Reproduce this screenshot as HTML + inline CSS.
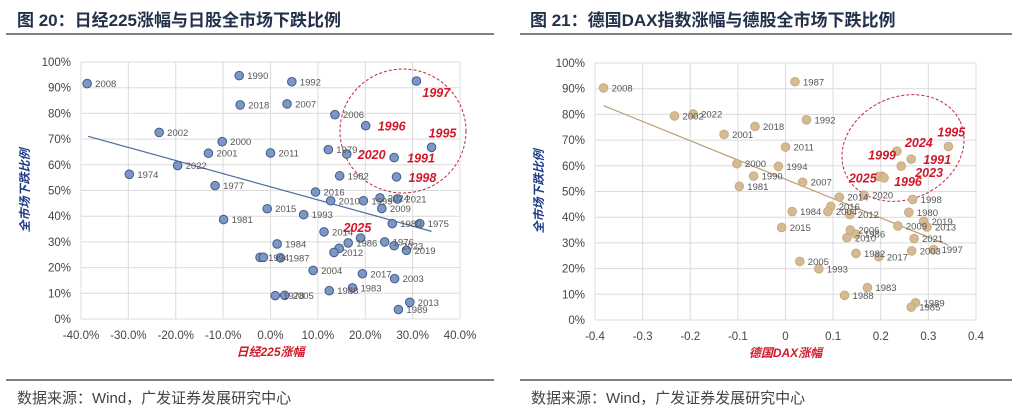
<!DOCTYPE html>
<html><head><meta charset="utf-8"><style>
body{margin:0;background:#fff;width:1024px;height:415px;overflow:hidden;font-family:"Liberation Sans","Noto Sans CJK SC",sans-serif}
</style></head><body>
<svg id="svg" width="1024" height="415" xmlns="http://www.w3.org/2000/svg">
<g font-family="'Liberation Sans','Noto Sans CJK SC',sans-serif">
<text x="17" y="26" font-size="17" font-weight="bold" fill="#23304a">图 20：日经225涨幅与日股全市场下跌比例</text>
<line x1="6" y1="34" x2="494" y2="34" stroke="#555" stroke-width="1.5"/>
<text x="530" y="26" font-size="17" font-weight="bold" fill="#23304a">图 21：德国DAX指数涨幅与德股全市场下跌比例</text>
<line x1="520" y1="34" x2="1012" y2="34" stroke="#555" stroke-width="1.5"/>
<line x1="6" y1="380" x2="494" y2="380" stroke="#555" stroke-width="1.5"/>
<line x1="520" y1="380" x2="1012" y2="380" stroke="#555" stroke-width="1.5"/>
<text x="17" y="403" font-size="15" fill="#444">数据来源：Wind，广发证券发展研究中心</text>
<text x="531" y="403" font-size="15" fill="#444">数据来源：Wind，广发证券发展研究中心</text>
</g>
<g id="left"></g>
<g id="right"></g>
</svg>
<script>
// Left chart data (Nikkei 225 change %, share of stocks declining %)
const leftYears = ["2008","2002","2000","2001","2022","1974","1977","1981","1990","2018","1994","1992","2007","2006","1997","1996","1995","1991","2020","1979","2011","1982","1998","2016","2024","2021","2010","1999","2009","2015","1993","1980","1975","2014","2025","1976","2023","2019","1986","","2012","1984","","1987","2004","2017","2003","1983","2005","1978","1988","2013","1989"];
const leftX = [-38.7,-23.5,-10.2,-13.1,-19.6,-29.8,-11.7,-9.9,-6.6,-6.4,-2.2,4.5,3.5,13.6,30.8,20.1,34.0,26.1,16.1,12.2,0.0,14.6,26.6,9.5,23.1,26.8,12.7,19.6,23.5,-0.7,7.0,25.7,31.5,11.3,19.0,24.1,26.1,28.7,16.4,14.5,13.4,1.4,-1.5,2.1,9.0,19.4,26.2,17.3,3.0,1.0,12.4,29.4,27.0];
const leftY = [91.6,72.6,69.0,64.5,59.7,56.3,51.9,38.7,94.7,83.3,24.0,92.3,83.7,79.5,92.6,75.2,66.8,62.8,64.2,65.9,64.6,55.7,55.3,49.4,47.1,46.7,46.0,46.0,43.0,42.9,40.6,37.1,37.1,33.9,31.5,30.0,28.5,26.7,29.6,27.5,25.9,29.2,24.0,23.8,18.9,17.6,15.7,12.1,9.2,9.1,11.0,6.5,3.7];
const leftHot = ["1997","1996","1995","1991","2020","1998","2025"];
const leftTrendX = [-38.5,34.0];
const leftTrendY = [71.1,34.1];
const leftXTicks = [-40,-30,-20,-10,0,10,20,30,40];
const leftXTickLabels = ["-40.0%","-30.0%","-20.0%","-10.0%","0.0%","10.0%","20.0%","30.0%","40.0%"];
const yTicks = [0,10,20,30,40,50,60,70,80,90,100];
const yTickLabels = ["0%","10%","20%","30%","40%","50%","60%","70%","80%","90%","100%"];
// Right chart data (DAX change, share declining %)
const rightYears = ["2008","2002","2022","2018","2001","2000","1990","1981","1987","1992","2011","1994","2007","2014","2020","2016","2004","1984","2012","2015","2006","1986","2010","2009","1980","1998","2019","2013","2021","2003","1997","1982","2017","2005","1993","1983","1988","1989","1985","1995","2024","1991","2023","1999","2025","1996"];
const rightX = [-0.382,-0.233,-0.194,-0.064,-0.129,-0.102,-0.067,-0.097,0.020,0.044,0.000,-0.015,0.036,0.113,0.165,0.095,0.089,0.014,0.135,-0.008,0.136,0.148,0.129,0.236,0.259,0.267,0.290,0.297,0.270,0.265,0.311,0.148,0.196,0.030,0.070,0.172,0.124,0.273,0.264,0.342,0.234,0.264,0.243,0.203,0.196,0.207];
const rightY = [90.3,79.4,80.2,75.3,72.2,60.8,56.0,52.0,92.7,77.9,67.3,59.8,53.6,47.8,48.6,44.2,42.2,42.2,41.0,36.0,35.0,33.4,32.0,36.6,41.9,46.9,38.4,36.2,31.7,26.9,27.4,25.9,24.6,22.8,19.9,12.6,9.6,6.7,5.0,67.5,65.7,62.6,59.9,55.9,55.8,55.3];
const rightHot = ["1995","2024","1991","2023","1999","2025","1996"];
const rightTrendX = [-0.382,0.342];
const rightTrendY = [83.4,29.1];
const rightXTicks = [-0.4,-0.3,-0.2,-0.1,0,0.1,0.2,0.3,0.4];
const rightXTickLabels = ["-0.4","-0.3","-0.2","-0.1","0","0.1","0.2","0.3","0.4"];
// highlighted-label nudges (label offsets only, not data)
const leftHotOffsets = {"1997":[6,16],"1996":[12,5],"1995":[-3,-10],"1991":[13,5],"2020":[11,5],"1998":[12,5],"2025":[-17,-6]};
const rightHotOffsets = {"1995":[-11,-10],"2024":[8,-4],"1991":[12,5],"2023":[14,11],"1999":[-14,-17],"2025":[-30,6],"1996":[10,8]};

const NS="http://www.w3.org/2000/svg";
function mk(parent,tag,attrs,txt){const e=document.createElementNS(NS,tag);for(const k in attrs)e.setAttribute(k,attrs[k]);if(txt!==undefined)e.textContent=txt;parent.appendChild(e);return e;}
const FONT="'Liberation Sans','Noto Sans CJK SC',sans-serif";

function chart(g,cfg){
  const sx=v=>cfg.x0+(v-cfg.xmin)/(cfg.xmax-cfg.xmin)*(cfg.x1-cfg.x0);
  const sy=v=>cfg.y1-(v/100)*(cfg.y1-cfg.y0);
  yTicks.forEach((t,i)=>{
    const l=mk(g,'line',{x1:cfg.x0,x2:cfg.x1,y1:sy(t),y2:sy(t),stroke:'#dcdcdc','stroke-width':1});
    
    
    const tx=mk(g,'text',{x:cfg.x0-10,y:sy(t)+4,'text-anchor':'end','font-size':11.5,fill:'#444','font-family':FONT},yTickLabels[i]);
    
    
  });
  cfg.xt.forEach((t,i)=>{
    const l=mk(g,'line',{x1:sx(t),x2:sx(t),y1:cfg.y0,y2:cfg.y1,stroke:'#dcdcdc','stroke-width':1});
    
    
    const tx=mk(g,'text',{x:sx(t),y:cfg.y1+20,'text-anchor':'middle','font-size':11.5,fill:'#444','font-family':FONT},cfg.xl[i]);
    
    
  });
  const tl=mk(g,'line',{x1:sx(cfg.tx[0]),y1:sy(cfg.ty[0]),x2:sx(cfg.tx[1]),y2:sy(cfg.ty[1]),stroke:cfg.line,'stroke-width':1.2});
  
  
  const el=mk(g,'ellipse',{cx:cfg.ell[0],cy:cfg.ell[1],rx:cfg.ell[2],ry:cfg.ell[3],transform:`rotate(${cfg.ell[4]} ${cfg.ell[0]} ${cfg.ell[1]})`,fill:'none',stroke:'#c0283a','stroke-width':1,'stroke-dasharray':'3,2'});
  
  
  cfg.xs.forEach((v,i)=>{
    const cx=sx(v),cy=sy(cfg.ys[i]);
    const c=mk(g,'circle',{cx:cx,cy:cy,r:4.3,fill:cfg.fill,stroke:cfg.stroke,'stroke-width':1});
    
    
  });
  cfg.xs.forEach((v,i)=>{
    const cx=sx(v),cy=sy(cfg.ys[i]);
    if(!cfg.names[i])return;
    const hot=cfg.hot.includes(cfg.names[i]);
    const off=hot&&cfg.off[cfg.names[i]]?cfg.off[cfg.names[i]]:[8,3.5];
    const t=mk(g,'text',{x:cx+off[0],y:cy+off[1],'font-size':hot?12.5:9.5,fill:hot?'#d0182a':'#555','font-weight':hot?'bold':'normal','font-style':hot?'italic':'normal','font-family':FONT},cfg.names[i]);
    
    
  });
  const xt=mk(g,'text',{x:(cfg.x0+cfg.x1)/2,y:cfg.y1+37,'text-anchor':'middle','font-size':12,fill:'#d0182a','font-weight':'bold','font-style':'italic','font-family':FONT},cfg.xtitle);
  
  
  const yx=cfg.x0-52, yy=(cfg.y0+cfg.y1)/2;
  const yt=mk(g,'text',{x:yx,y:yy,'text-anchor':'middle','font-size':12,fill:'#1f3c88','font-weight':'bold','font-style':'italic',transform:`rotate(-90 ${yx} ${yy})`,'font-family':FONT},'全市场下跌比例');
  
  
}
chart(document.getElementById('left'),{x0:81,x1:460,y0:62,y1:319,xmin:-40,xmax:40,xt:leftXTicks,xl:leftXTickLabels,xs:leftX,ys:leftY,names:leftYears,hot:leftHot,off:leftHotOffsets,tx:leftTrendX,ty:leftTrendY,fill:'#7d96c2',stroke:'#3f5d90',line:'#4a6f9e',ell:[403,131,63,62,0],xtitle:'日经225涨幅'});
chart(document.getElementById('right'),{x0:595,x1:976,y0:63,y1:320,xmin:-0.4,xmax:0.4,xt:rightXTicks,xl:rightXTickLabels,xs:rightX,ys:rightY,names:rightYears,hot:rightHot,off:rightHotOffsets,tx:rightTrendX,ty:rightTrendY,fill:'#d6ba93',stroke:'#c7aa80',line:'#b99f73',ell:[903,148,63,51,-25],xtitle:'德国DAX涨幅'});
</script>
</body></html>
